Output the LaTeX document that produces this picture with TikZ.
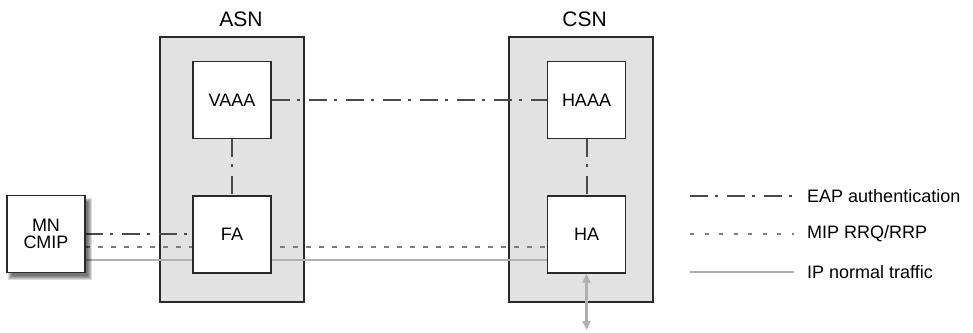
\documentclass[tikz,border=0pt]{standalone}
\usepackage{fontspec}
\setmainfont{Liberation Sans}
\usetikzlibrary{arrows.meta}

\definecolor{domainfill}{HTML}{E2E2E2}
\definecolor{edgedark}{HTML}{2A2A2A}
\definecolor{eapcol}{HTML}{4A4A4A}
\definecolor{mipcol}{HTML}{7C7C7C}
\definecolor{ipcol}{HTML}{B0B0B0}

\tikzset{
  netdomain/.style={draw=edgedark, line width=1.4pt, fill=domainfill,
    minimum width=144pt, minimum height=265pt, inner sep=0pt},
  entity/.style={draw=edgedark, line width=1.4pt, fill=white,
    minimum width=78pt, minimum height=77pt, inner sep=0pt,
    font=\fontsize{18}{20}\selectfont, align=center},
  header/.style={font=\fontsize{21}{24}\selectfont, inner sep=0pt},
  legendtext/.style={font=\fontsize{18}{20}\selectfont, inner sep=0pt, anchor=west},
  eap/.style={draw=eapcol, line width=2pt,
    dash pattern=on 18pt off 7pt on 3pt off 9pt},
  mip/.style={draw=mipcol, line width=2.4pt,
    dash pattern=on 5pt off 8pt},
  ipline/.style={draw=ipcol, line width=2.4pt},
  shadowlayer/.style={fill=black, fill opacity=0.14},
}

\begin{document}
\begin{tikzpicture}[x=1pt, y=-1pt]
  \useasboundingbox (0,0) rectangle (973,332);

  % network domains
  \node[netdomain] (asn) at (232,169.5) {};
  \node[netdomain] (csn) at (581,169.5) {};
  \node[header] (asnlabel) at (241,19.5) {ASN};
  \node[header] (csnlabel) at (584.5,19.5) {CSN};

  % named anchor points for the horizontal links
  \coordinate (mnE) at (85,234);
  \coordinate (mnM) at (85,247);
  \coordinate (mnI) at (85,260);
  \coordinate (faW) at (193,234);
  \coordinate (haM) at (547,247);
  \coordinate (haI) at (547,260);

  % links (drawn before the entity boxes so the boxes sit on top)
  \draw[ipline] (mnI) -- (haI);
  \draw[mip] (mnM) -- (haM);
  \draw[eap] (mnE) -- (faW);

  % soft drop shadow under the mobile node
  \foreach \k in {3,2,1,0,-1}
    \fill[shadowlayer] (11-\k,201-\k) rectangle (89+\k,277+\k);

  % entities
  \node[entity] (mn) at (46,234) {MN\\[-3pt]CMIP};
  \node[entity] (vaaa) at (232,100) {VAAA};
  \node[entity] (fa) at (232,234.5) {FA};
  \node[entity] (haaa) at (586.5,100) {HAAA};
  \node[entity] (ha) at (586.5,234.5) {HA};

  % AAA signalling
  \draw[eap] (vaaa.east) -- (haaa.west);
  \draw[eap] (vaaa.south) -- (fa.north);
  \draw[eap] (haaa.south) -- (ha.north);

  % traffic towards the outside network
  \coordinate (out) at (586.5,330);
  \draw[ipline, {Triangle[length=9pt,width=8pt]}-{Triangle[length=9pt,width=8pt]}]
    (ha.south) -- (out);

  % legend
  \coordinate (l1a) at (690,196);  \coordinate (l1b) at (794,196);
  \coordinate (l2a) at (690,234);  \coordinate (l2b) at (794,234);
  \coordinate (l3a) at (690,272);  \coordinate (l3b) at (794,272);
  \draw[eap] (l1a) -- (l1b);
  \draw[mip, dash pattern=on 4pt off 10.5pt] (l2a) -- (l2b);
  \draw[ipline] (l3a) -- (l3b);
  \node[legendtext] (t1) at (807,196) {EAP authentication};
  \node[legendtext] (t2) at (807,234) {MIP RRQ/RRP};
  \node[legendtext] (t3) at (807,272) {IP normal traffic};
\end{tikzpicture}
\end{document}
